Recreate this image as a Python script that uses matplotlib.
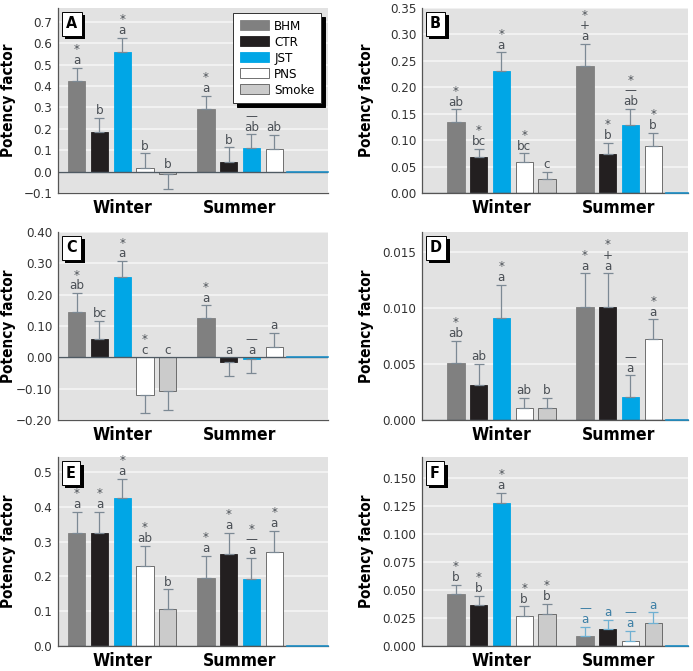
import numpy as np
import matplotlib
matplotlib.use("Agg")
import matplotlib.pyplot as plt
import matplotlib.patheffects as pe

plt.rcParams['font.family'] = ['Liberation Sans Narrow', 'DejaVu Sans']
plt.rcParams['font.stretch'] = 'condensed'

sources = ["BHM", "CTR", "JST", "PNS", "Smoke"]
colors = {"BHM": "#808080", "CTR": "#231f20", "JST": "#00a6e6", "PNS": "#ffffff", "Smoke": "#cbcbcb"}

# panel A
a_winter = [0.423, 0.185, 0.560, 0.016, -0.012]
a_winter_err = [0.062, 0.067, 0.067, 0.069, 0.067]
a_summer_src = ["BHM", "CTR", "JST", "PNS"]
a_summer = [0.292, 0.044, 0.109, 0.106]
a_summer_err = [0.063, 0.070, 0.065, 0.065]
a_winter_lab = ["*\na", "b", "*\na", "b", "b"]
a_summer_lab = ["*\na", "b", "\u2014\nab", "ab"]

# panel B
b_winter = [0.135, 0.068, 0.230, 0.059, 0.027]
b_winter_err = [0.023, 0.016, 0.036, 0.016, 0.013]
b_summer_src = ["BHM", "CTR", "JST", "PNS"]
b_summer = [0.240, 0.073, 0.129, 0.089]
b_summer_err = [0.042, 0.022, 0.030, 0.025]
b_winter_lab = ["*\nab", "*\nbc", "*\na", "*\nbc", "c"]
b_summer_lab = ["*\n+\na", "*\nb", "*\n\u2014\nab", "*\nb"]

# panel C
c_winter = [0.146, 0.059, 0.257, -0.120, -0.106]
c_winter_err = [0.059, 0.057, 0.050, 0.058, 0.061]
c_summer_src = ["BHM", "CTR", "JST", "PNS"]
c_summer = [0.125, -0.014, -0.006, 0.032]
c_summer_err = [0.041, 0.047, 0.045, 0.046]
c_winter_lab = ["*\nab", "bc", "*\na", "*\nc", "c"]
c_summer_lab = ["*\na", "a", "\u2014\na", "a"]

# panel D
d_winter = [0.0051, 0.0031, 0.0091, 0.0011, 0.0011]
d_winter_err = [0.0020, 0.0019, 0.0030, 0.0009, 0.0009]
d_summer_src = ["BHM", "CTR", "JST", "PNS"]
d_summer = [0.0101, 0.0101, 0.0021, 0.0072]
d_summer_err = [0.0030, 0.0030, 0.0019, 0.0018]
d_winter_lab = ["*\nab", "ab", "*\na", "ab", "b"]
d_summer_lab = ["*\na", "*\n+\na", "\u2014\na", "*\na"]

# panel E
e_winter = [0.325, 0.325, 0.426, 0.231, 0.106]
e_winter_err = [0.061, 0.061, 0.054, 0.057, 0.057]
e_summer_src = ["BHM", "CTR", "JST", "PNS"]
e_summer = [0.196, 0.263, 0.192, 0.270]
e_summer_err = [0.063, 0.063, 0.061, 0.061]
e_winter_lab = ["*\na", "*\na", "*\na", "*\nab", "b"]
e_summer_lab = ["*\na", "*\na", "*\n\u2014\na", "*\na"]

# panel F
f_winter = [0.0467, 0.0363, 0.1277, 0.0268, 0.0289]
f_winter_err = [0.0081, 0.0087, 0.0093, 0.0086, 0.0089]
f_summer_src = ["BHM", "CTR", "PNS", "Smoke"]
f_summer = [0.0086, 0.0149, 0.0048, 0.0208]
f_summer_err = [0.0084, 0.0086, 0.0089, 0.0092]
f_winter_lab = ["*\nb", "*\nb", "*\na", "*\nb", "*\nb"]
f_summer_lab = ["\u2014\na", "a", "\u2014\na", "a"]

panels = [
    ("A", a_winter, a_winter_err, a_winter_lab, a_summer_src, a_summer, a_summer_err, a_summer_lab,
     (-0.1, 0.765), np.arange(-0.1, 0.71, 0.1), "%.1f"),
    ("B", b_winter, b_winter_err, b_winter_lab, b_summer_src, b_summer, b_summer_err, b_summer_lab,
     (0, 0.35), np.arange(0, 0.351, 0.05), "%.2f"),
    ("C", c_winter, c_winter_err, c_winter_lab, c_summer_src, c_summer, c_summer_err, c_summer_lab,
     (-0.2, 0.4), np.arange(-0.2, 0.41, 0.1), "%.2f"),
    ("D", d_winter, d_winter_err, d_winter_lab, d_summer_src, d_summer, d_summer_err, d_summer_lab,
     (0, 0.0168), np.arange(0, 0.0151, 0.005), "%.3f"),
    ("E", e_winter, e_winter_err, e_winter_lab, e_summer_src, e_summer, e_summer_err, e_summer_lab,
     (0, 0.543), np.arange(0, 0.51, 0.1), "%.1f"),
    ("F", f_winter, f_winter_err, f_winter_lab, f_summer_src, f_summer, f_summer_err, f_summer_lab,
     (0, 0.169), np.arange(0, 0.151, 0.025), "%.3f"),
]

fig = plt.figure(figsize=(6.93, 6.71), dpi=100)
W, H = 693, 671
col_x = [(58, 328), (422, 688)]
row_y = [(8, 193), (232, 420), (457, 646)]
ylab_x = [16, 374]

x_winter = np.arange(5)
x_summer = np.arange(4) + 5.67
bw = 0.76
err_col = "#7c8994"
txt_col = "#4a4f55"

for i, p in enumerate(panels):
    (name, wv, we, wl, ssrc, sv, se, sl, ylim, ticks, fmt) = p
    r, c = divmod(i, 2)
    x0, x1 = col_x[c]
    y0, y1 = row_y[r]
    ax = fig.add_axes([x0 / W, 1 - y1 / H, (x1 - x0) / W, (y1 - y0) / H])
    ax.set_facecolor("#e2e2e2")
    ax.set_axisbelow(True)
    ax.yaxis.grid(True, color="#f3f3f3", lw=1.3)

    groups = [(x_winter, sources, wv, we, wl, False), (x_summer, ssrc, sv, se, sl, name == "F")]
    for xs, srcs, vals, errs, labs, light in groups:
        for x, s, v, e, lab in zip(xs, srcs, vals, errs, labs):
            ec = "#5a5a5a" if s in ("PNS", "Smoke") else colors[s]
            ax.bar(x, v, bw, color=colors[s], edgecolor=ec, lw=0.6, zorder=2)
            ecol = "#6fb0d2" if light else err_col
            yerr = [[0], [e]] if v >= 0 else [[e], [0]]
            ax.errorbar(x, v, yerr=yerr, fmt="none", ecolor=ecol, elinewidth=0.9,
                        capsize=3.5, capthick=0.9, zorder=3)
            top = v + e if v >= 0 else 0
            ax.annotate(lab, (x, top), xytext=(0, 0.5), textcoords="offset points",
                        ha="center", va="bottom", fontsize=9.5, linespacing=0.78,
                        color="#3d7fa5" if light else txt_col, zorder=4)

    if c == 0:
        ax.set_xlim(-0.82, 11.03)
    else:
        ax.set_xlim(-1.49, 10.2)
    xl = ax.get_xlim()
    ax.set_ylim(*ylim)
    ax.axhline(0, color="#4f5a63", lw=1.0, zorder=2.5)
    ax.plot([9.25, xl[1]], [0, 0], color="#1e90c8", lw=1.2, zorder=2.6, clip_on=False)

    ax.set_yticks(ticks)
    ax.set_yticklabels([(fmt % t).replace("-", "\u2212") for t in ticks], fontsize=9.5)
    ax.tick_params(axis="y", length=0, pad=4, colors="#333333")
    ax.set_xticks([2.0, 7.17])
    ax.set_xticklabels(["Winter", "Summer"], fontsize=12.5, fontweight="bold")
    ax.tick_params(axis="x", length=0, pad=4)
    for sp in ["top", "right"]:
        ax.spines[sp].set_visible(False)
    ax.spines["left"].set_color("#555555")
    ax.spines["left"].set_linewidth(0.9)
    ax.spines["bottom"].set_color("#555555")
    ax.spines["bottom"].set_linewidth(0.9)
    ax.set_ylabel("Potency factor", fontsize=11, fontweight="bold")
    ax.yaxis.set_label_coords(-(x0 - ylab_x[c]) / (x1 - x0), 0.5)

    t = ax.text(0.03, 0.955, name, transform=ax.transAxes, ha="left", va="top",
                fontsize=11.5, fontweight="bold", zorder=6,
                bbox=dict(boxstyle="square,pad=0.28", fc="white", ec="black", lw=0.7))
    t.get_bbox_patch().set_path_effects([pe.SimplePatchShadow(offset=(2.5, -2.5), shadow_rgbFace="black", alpha=1),
                                         pe.Normal()])

    if name == "A":
        handles = [plt.Rectangle((0, 0), 1, 1, fc=colors[s],
                                 ec="#5a5a5a" if s in ("PNS", "Smoke") else colors[s], lw=0.6)
                   for s in sources]
        leg = ax.legend(handles, sources, loc="upper right", bbox_to_anchor=(0.985, 0.985),
                        fontsize=9.5, frameon=True, fancybox=False, handlelength=2.2, handleheight=0.8,
                        labelspacing=0.22, borderpad=0.5, handletextpad=0.4, borderaxespad=0.2,
                        shadow={"color": "black", "alpha": 1, "ox": 2.5, "oy": -2.5})
        leg.get_frame().set_edgecolor("#333333")
        leg.get_frame().set_linewidth(0.7)
        leg.set_zorder(7)

fig.savefig("out.png", dpi=100)
